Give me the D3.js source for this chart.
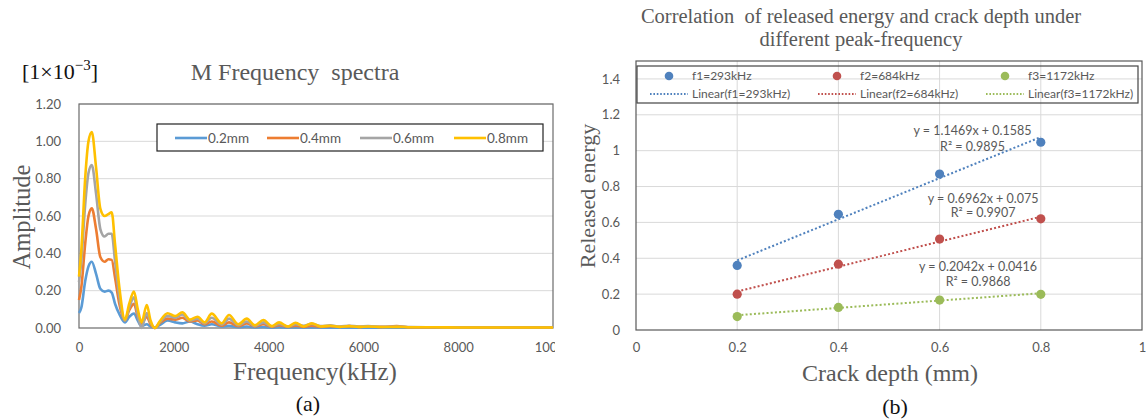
<!DOCTYPE html>
<html><head><meta charset="utf-8">
<script src="https://cdn.jsdelivr.net/npm/d3@7"></script>
<style>body{margin:0;background:#fff} svg{display:block}</style>
</head><body><svg id="c" width="1147" height="420"></svg>
<script>
// ---------- (a) spectrum data ----------
const freq = [0,50,130,200,270,360,450,540,620,690,760,850,970,1060,1160,1240,1320,1430,1510,1600,1700,1870,2030,2180,2340,2500,2650,2800,3010,3165,3360,3540,3710,3890,4070,4220,4410,4570,4740,4910,5100,5300,5500,5700,5900,6100,6400,6700,7000,7500,8000,8500,9000,9500,10000];
const amp02 = [0.08,0.11,0.25,0.33,0.355,0.29,0.21,0.195,0.20,0.19,0.13,0.075,0.03,0.06,0.078,0.04,0.01,0.02,0.008,0.003,0.015,0.04,0.03,0.025,0.035,0.02,0.012,0.02,0.008,0.012,0.004,0.008,0.003,0.005,0.002,0.004,0.002,0.003,0.002,0.003,0.002,0.002,0.002,0.002,0.002,0.002,0.002,0.002,0.002,0.002,0.002,0.002,0.002,0.002,0.002];
const amp04 = [0.15,0.22,0.45,0.60,0.641,0.53,0.38,0.355,0.368,0.365,0.27,0.13,0.04,0.095,0.129,0.06,0.025,0.06,0.02,0.0,0.025,0.05,0.045,0.055,0.035,0.04,0.02,0.035,0.012,0.03,0.01,0.025,0.008,0.02,0.006,0.015,0.006,0.012,0.006,0.012,0.006,0.01,0.006,0.01,0.006,0.008,0.006,0.01,0.004,0.003,0.002,0.002,0.002,0.002,0.002];
const amp06 = [0.245,0.36,0.66,0.83,0.873,0.72,0.53,0.49,0.505,0.505,0.36,0.17,0.04,0.11,0.164,0.07,0.0,0.08,0.03,0.0,0.03,0.065,0.055,0.072,0.04,0.05,0.025,0.055,0.018,0.05,0.015,0.035,0.01,0.03,0.008,0.022,0.008,0.02,0.012,0.022,0.01,0.014,0.008,0.012,0.008,0.01,0.006,0.008,0.005,0.004,0.003,0.003,0.003,0.003,0.003];
const amp08 = [0.275,0.42,0.80,1.00,1.05,0.86,0.64,0.60,0.61,0.62,0.45,0.22,0.045,0.13,0.195,0.10,0.03,0.123,0.04,0.0,0.035,0.079,0.064,0.084,0.045,0.06,0.03,0.077,0.025,0.07,0.02,0.05,0.014,0.043,0.01,0.03,0.008,0.028,0.008,0.025,0.008,0.012,0.006,0.01,0.006,0.008,0.005,0.006,0.004,0.004,0.003,0.003,0.003,0.003,0.003];
const specNames = ["0.2mm","0.4mm","0.6mm","0.8mm"];
const specColors = ["#5B9BD5","#ED7D31","#A5A5A5","#FFC000"];
const ampTicks = [0,0.2,0.4,0.6,0.8,1.0,1.2];
const freqTicks = [0,2000,4000,6000,8000,10000];

// ---------- (b) correlation data ----------
const depth = [0.2,0.4,0.6,0.8];
const energyF1 = [0.36,0.645,0.87,1.047];
const energyF2 = [0.20,0.367,0.507,0.62];
const energyF3 = [0.075,0.126,0.167,0.199];
const fitSlope = [1.1469,0.6962,0.2042];
const fitIntercept = [0.1585,0.075,0.0416];
const eqLabels = ["y = 1.1469x + 0.1585","y = 0.6962x + 0.075","y = 0.2042x + 0.0416"];
const r2Labels = ["R\u00B2 = 0.9895","R\u00B2 = 0.9907","R\u00B2 = 0.9868"];
const corrNames = ["f1=293kHz","f2=684kHz","f3=1172kHz"];
const corrColors = ["#4F81BD","#C0504D","#9BBB59"];
const energyTicks = [0,0.2,0.4,0.6,0.8,1,1.2,1.4];
const energyTickLabels = ["0","0.2","0.4","0.6","0.8","1","1.2","1.4"];
const depthTicks = [0,0.2,0.4,0.6,0.8,1];
const depthTickLabels = ["0","0.2","0.4","0.6","0.8","1"];

const SERIF = "'Liberation Serif','Times New Roman',serif";
const SANS = "Lato,'Open Sans',sans-serif";
const GRAY = "#595959";

const svg = d3.select("#c");

// ================= Panel (a) =================
svg.append("defs").append("clipPath").attr("id","clipA")
  .append("rect").attr("x",0).attr("y",0).attr("width",555).attr("height",420);
const gA = svg.append("g").attr("clip-path","url(#clipA)");

const xA = d3.scaleLinear().domain([0,10000]).range([79,553]);
const yA = d3.scaleLinear().domain([0,1.2]).range([328,104]);

gA.append("g").selectAll("line").data(ampTicks.slice(1)).join("line")
  .attr("x1",xA(0)).attr("x2",xA(10000)).attr("y1",d=>yA(d)).attr("y2",d=>yA(d))
  .attr("stroke","#d9d9d9").attr("stroke-width",1);

gA.append("rect").attr("x",xA(0)).attr("y",yA(1.2)).attr("width",xA(10000)-xA(0)).attr("height",yA(0)-yA(1.2))
  .attr("fill","none").attr("stroke","#6b6b6b").attr("stroke-width",1.2);

const axYA = gA.append("g").attr("transform",`translate(${xA(0)-15},0)`)
  .call(d3.axisLeft(yA).tickValues(ampTicks).tickFormat(d3.format(".2f")).tickSize(0));
axYA.select(".domain").remove();
axYA.selectAll("text").attr("font-family",SANS).attr("font-size",13).attr("fill",GRAY);

const axXA = gA.append("g").attr("transform",`translate(0,${yA(0)+12})`)
  .call(d3.axisBottom(xA).tickValues(freqTicks).tickFormat(d3.format("d")).tickSize(0));
axXA.select(".domain").remove();
axXA.selectAll("text").attr("font-family",SANS).attr("font-size",13).attr("fill",GRAY);

const specData = [amp02,amp04,amp06,amp08];
const lineA = d3.line().x((d,i)=>xA(freq[i])).y(d=>yA(d)).curve(d3.curveMonotoneX);
gA.append("g").selectAll("path").data(specData).join("path")
  .attr("d",lineA).attr("fill","none").attr("stroke",(d,i)=>specColors[i])
  .attr("stroke-width",2.6).attr("stroke-linejoin","round");

// legend (a)
const legA = gA.append("g");
legA.append("rect").attr("x",157).attr("y",124).attr("width",386).attr("height",27)
  .attr("fill","#fff").attr("stroke","#222").attr("stroke-width",1.2);
const legAx = [175,267,360,454];
specNames.forEach((n,i)=>{
  legA.append("line").attr("x1",legAx[i]).attr("x2",legAx[i]+32).attr("y1",138).attr("y2",138)
    .attr("stroke",specColors[i]).attr("stroke-width",2.6);
  legA.append("text").attr("x",legAx[i]+33).attr("y",138).attr("dy","0.35em")
    .attr("font-family",SANS).attr("font-size",13.5).attr("fill",GRAY).text(n);
});

// titles (a)
const unitT = svg.append("text").attr("x",22).attr("y",79).attr("font-family",SERIF).attr("font-size",22).attr("fill","#111");
unitT.append("tspan").text("[1\u00D710");
unitT.append("tspan").attr("dy",-9).attr("font-size",15).text("\u22123");
unitT.append("tspan").attr("dy",9).text("]");
svg.append("text").attr("x",295).attr("y",80).attr("text-anchor","middle").attr("font-family",SERIF)
  .attr("font-size",24).attr("fill",GRAY).attr("xml:space","preserve").text("M Frequency  spectra");
svg.append("text").attr("transform","translate(30,217) rotate(-90)").attr("text-anchor","middle")
  .attr("font-family",SERIF).attr("font-size",24.5).attr("fill",GRAY).text("Amplitude");
svg.append("text").attr("x",315).attr("y",380).attr("text-anchor","middle").attr("font-family",SERIF)
  .attr("font-size",25).attr("fill",GRAY).text("Frequency(kHz)");
svg.append("text").attr("x",308).attr("y",411).attr("text-anchor","middle").attr("font-family",SERIF)
  .attr("font-size",22).attr("fill","#111").text("(a)");

// ================= Panel (b) =================
const gB = svg.append("g");
const xB = d3.scaleLinear().domain([0,1]).range([636,1142]);
const yB = d3.scaleLinear().domain([0,1.5]).range([330,61]);

gB.append("g").selectAll("line").data(energyTicks.slice(1)).join("line")
  .attr("x1",xB(0)).attr("x2",xB(1)).attr("y1",d=>yB(d)).attr("y2",d=>yB(d))
  .attr("stroke","#d9d9d9").attr("stroke-width",1);
gB.append("g").selectAll("line").data(depthTicks.slice(1,-1)).join("line")
  .attr("x1",d=>xB(d)).attr("x2",d=>xB(d)).attr("y1",yB(0)).attr("y2",yB(1.5))
  .attr("stroke","#d9d9d9").attr("stroke-width",1);
gB.append("rect").attr("x",xB(0)).attr("y",yB(1.5)).attr("width",xB(1)-xB(0)).attr("height",yB(0)-yB(1.5))
  .attr("fill","none").attr("stroke","#595959").attr("stroke-width",1.2);

const axYB = gB.append("g").attr("transform",`translate(${xB(0)-13},0)`)
  .call(d3.axisLeft(yB).tickValues(energyTicks).tickFormat((d,i)=>energyTickLabels[i]).tickSize(0));
axYB.select(".domain").remove();
axYB.selectAll("text").attr("font-family",SANS).attr("font-size",13).attr("fill",GRAY);
const axXB = gB.append("g").attr("transform",`translate(0,${yB(0)+10})`)
  .call(d3.axisBottom(xB).tickValues(depthTicks).tickFormat((d,i)=>depthTickLabels[i]).tickSize(0));
axXB.select(".domain").remove();
axXB.selectAll("text").attr("font-family",SANS).attr("font-size",13).attr("fill",GRAY);

const corrData = [energyF1,energyF2,energyF3];
// trendlines
corrData.forEach((s,k)=>{
  const x0 = d3.min(depth), x1 = d3.max(depth);
  gB.append("line").attr("x1",xB(x0)).attr("y1",yB(fitSlope[k]*x0+fitIntercept[k]))
    .attr("x2",xB(x1)).attr("y2",yB(fitSlope[k]*x1+fitIntercept[k]))
    .attr("stroke",corrColors[k]).attr("stroke-width",2).attr("stroke-dasharray","2,2.2");
});
corrData.forEach((s,k)=>{
  gB.append("g").selectAll("circle").data(s).join("circle")
    .attr("cx",(d,i)=>xB(depth[i])).attr("cy",d=>yB(d)).attr("r",4.6).attr("fill",corrColors[k]);
});

// equation labels
const eqPos = [[0.665,1.109,1.025],[0.686,0.735,0.657],[0.676,0.351,0.267]];
eqLabels.forEach((t,k)=>{
  gB.append("text").attr("x",xB(eqPos[k][0])).attr("y",yB(eqPos[k][1])).attr("dy","0.35em")
    .attr("text-anchor","middle").attr("font-family",SANS).attr("font-size",12.5).attr("fill",GRAY).text(t);
  gB.append("text").attr("x",xB(eqPos[k][0])).attr("y",yB(eqPos[k][2])).attr("dy","0.35em")
    .attr("text-anchor","middle").attr("font-family",SANS).attr("font-size",12.5).attr("fill",GRAY).text(r2Labels[k]);
});

// legend (b)
const legB = gB.append("g");
legB.append("rect").attr("x",637).attr("y",66).attr("width",501).attr("height",37)
  .attr("fill","none").attr("stroke","#444").attr("stroke-width",1.2);
const legBx = [669,837,1005];
corrNames.forEach((n,k)=>{
  legB.append("circle").attr("cx",legBx[k]).attr("cy",76).attr("r",4.3).attr("fill",corrColors[k]);
  legB.append("text").attr("x",legBx[k]+23).attr("y",76).attr("dy","0.35em")
    .attr("font-family",SANS).attr("font-size",12).attr("fill",GRAY).text(n);
  legB.append("line").attr("x1",legBx[k]-19).attr("x2",legBx[k]+19).attr("y1",94).attr("y2",94)
    .attr("stroke",corrColors[k]).attr("stroke-width",1.8).attr("stroke-dasharray","1.6,1.8");
  legB.append("text").attr("x",legBx[k]+23).attr("y",94).attr("dy","0.35em")
    .attr("font-family",SANS).attr("font-size",12).attr("fill",GRAY).text("Linear(" + n + ")");
});

// titles (b)
svg.append("text").attr("x",861).attr("y",23).attr("text-anchor","middle").attr("font-family",SERIF)
  .attr("font-size",20.5).attr("fill",GRAY).attr("xml:space","preserve")
  .text("Correlation  of released energy and crack depth under");
svg.append("text").attr("x",861).attr("y",46).attr("text-anchor","middle").attr("font-family",SERIF)
  .attr("font-size",20.5).attr("fill",GRAY).text("different peak-frequency");
svg.append("text").attr("transform","translate(595,196) rotate(-90)").attr("text-anchor","middle")
  .attr("font-family",SERIF).attr("font-size",22).attr("fill",GRAY).text("Released energy");
svg.append("text").attr("x",890).attr("y",381).attr("text-anchor","middle").attr("font-family",SERIF)
  .attr("font-size",24).attr("fill",GRAY).text("Crack depth (mm)");
svg.append("text").attr("x",895).attr("y",414).attr("text-anchor","middle").attr("font-family",SERIF)
  .attr("font-size",22).attr("fill","#111").text("(b)");
</script></body></html>
